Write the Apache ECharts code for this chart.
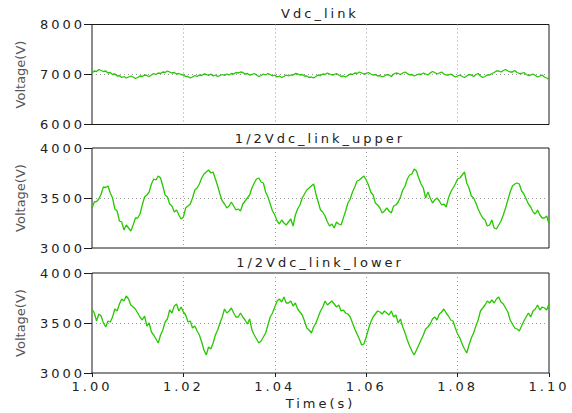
<!DOCTYPE html>
<html>
<head>
<meta charset="utf-8">
<script src="https://cdn.jsdelivr.net/npm/echarts@6/dist/echarts.min.js"></script>
<style>
  html, body { margin: 0; padding: 0; background: #fff; }
  #chart { width: 572px; height: 413px; }
  #chart text { letter-spacing: 3px; }
  #chart text[style*="Verdana"], #chart text[font-family*="Verdana"] { letter-spacing: 0; }
</style>
</head>
<body>
<div id="chart"></div>
<script>
// ---- data (sampled every 0.5 ms from t = 1.000 s to 1.100 s) ----
const T_START = 1.0;
const T_STEP = 0.0005;
const titles = ['Vdc_link', '1/2Vdc_link_upper', '1/2Vdc_link_lower'];
const yMins = [6000, 3000, 3000];
const yMaxs = [8000, 4000, 4000];
const yIntervals = [1000, 500, 500];

const vdcLink = [
7030,7070,7060,7100,7080,7060,7070,7030,7040,7000,
7010,6970,6980,6940,6960,6930,6950,6970,6950,6920,
6940,6970,6960,6990,6980,6960,6990,7020,7000,7030,
7020,7050,7040,7070,7050,7030,7040,7010,7020,7000,
6990,6960,6960,6930,6950,6980,6960,6990,6980,7010,
7000,6980,7010,6970,6990,6960,6980,7000,6980,7010,
6990,7020,7010,7040,7030,7050,7040,7010,7020,6990,
7000,7020,6990,6960,6980,7010,6990,7020,7000,6970,
6990,6950,6970,6940,6960,6990,6970,6990,6990,7020,
7010,6990,7000,6970,6970,6940,6950,6930,6960,6990,
6980,7010,7000,7030,7010,6990,7000,7020,6990,6960,
6970,6950,6980,7010,7000,7030,7020,7050,7030,7010,
7020,7040,7010,6990,7000,6970,6980,6950,6970,7000,
6990,6960,7010,7030,7020,7000,7030,7050,7020,6990,
7000,6970,6990,7010,7000,7030,7010,6990,7030,7060,
7040,7010,7030,7050,7010,6990,6990,7010,6980,6950,
6970,6990,6960,6940,6970,7000,6990,6960,7000,7020,
6970,6940,6960,6990,6990,7020,7040,7070,7070,7050,
7080,7100,7070,7050,7050,7080,7040,7020,7020,7040,
7000,6980,6990,7010,6980,6950,6970,6990,6950,6930,
6900
];

const upperHalf = [
3400,3460,3465,3490,3540,3610,3605,3620,3550,3500,
3390,3370,3270,3260,3180,3230,3200,3170,3230,3300,
3300,3340,3430,3510,3530,3560,3640,3690,3680,3720,
3700,3620,3530,3510,3440,3420,3360,3380,3330,3290,
3310,3400,3420,3440,3500,3580,3600,3640,3700,3740,
3760,3780,3750,3760,3690,3620,3540,3470,3440,3400,
3420,3460,3420,3380,3390,3370,3440,3470,3500,3530,
3600,3650,3690,3700,3660,3650,3560,3510,3440,3370,
3330,3270,3240,3280,3250,3230,3260,3290,3220,3330,
3390,3430,3500,3540,3580,3600,3620,3640,3540,3460,
3380,3360,3320,3260,3220,3240,3200,3260,3240,3230,
3300,3370,3450,3490,3560,3610,3670,3680,3700,3720,
3680,3630,3560,3530,3450,3430,3400,3350,3370,3400,
3370,3350,3420,3430,3460,3510,3580,3620,3690,3730,
3740,3790,3770,3700,3640,3600,3500,3560,3500,3450,
3480,3500,3470,3430,3440,3410,3500,3560,3600,3640,
3690,3700,3730,3760,3650,3600,3520,3500,3450,3390,
3340,3300,3280,3220,3230,3280,3200,3190,3230,3270,
3330,3400,3480,3560,3620,3640,3650,3640,3570,3540,
3490,3440,3410,3360,3340,3380,3330,3300,3300,3320,
3240
];

const lowerHalf = [
3640,3600,3520,3590,3570,3500,3460,3520,3510,3560,
3640,3620,3690,3740,3720,3770,3740,3680,3660,3640,
3600,3560,3530,3570,3470,3500,3410,3380,3340,3300,
3380,3430,3510,3540,3630,3600,3670,3690,3620,3660,
3610,3580,3510,3520,3450,3470,3420,3380,3310,3230,
3180,3260,3240,3300,3380,3430,3500,3560,3640,3600,
3620,3650,3600,3560,3560,3600,3560,3530,3490,3540,
3430,3380,3340,3300,3320,3360,3400,3480,3560,3600,
3660,3720,3740,3710,3760,3700,3700,3720,3670,3700,
3640,3610,3580,3520,3450,3430,3400,3460,3500,3560,
3620,3660,3720,3680,3700,3720,3690,3660,3680,3620,
3630,3600,3590,3560,3500,3440,3390,3340,3280,3290,
3360,3440,3510,3560,3590,3620,3610,3590,3620,3600,
3580,3620,3560,3580,3500,3540,3460,3400,3330,3270,
3220,3180,3230,3280,3330,3380,3440,3460,3490,3540,
3560,3530,3590,3610,3640,3600,3570,3530,3520,3450,
3390,3350,3290,3240,3200,3280,3350,3400,3470,3530,
3620,3650,3680,3720,3700,3730,3700,3740,3760,3710,
3690,3650,3610,3530,3490,3450,3440,3420,3470,3520,
3560,3600,3560,3620,3640,3680,3630,3660,3650,3630,
3690
];

const seriesList = [vdcLink, upperHalf, lowerHalf];

// ---- chart ----
const GREEN = '#27c800';
const FONT = 'DejaVu Sans';
const gridTops = [24.5, 148, 273];
const gridHeight = 100;
const gridLeft = 92;
const gridWidth = 457;

const toPairs = arr => arr.map((v, i) => [+(T_START + i * T_STEP).toFixed(4), v]);

const chart = echarts.init(document.getElementById('chart'), null, { renderer: 'svg' });

const grids = [], xAxes = [], yAxes = [], series = [], titleOpts = [];
const titleTops = [2, 127, 251];
for (let k = 0; k < 3; k++) {
  grids.push({
    left: gridLeft, width: gridWidth, top: gridTops[k], height: gridHeight,
    show: true, borderColor: '#1a1a1a', borderWidth: 1, backgroundColor: '#fff'
  });
  const last = k === 2;
  xAxes.push({
    type: 'value', gridIndex: k, min: 1.0, max: 1.1, interval: 0.02,
    axisLine: { show: false },
    axisTick: { show: last, inside: false, length: 4, lineStyle: { color: '#1a1a1a' } },
    axisLabel: {
      show: last, margin: 7, fontSize: 13, fontFamily: FONT, color: '#222',
      formatter: v => v.toFixed(2)
    },
    splitLine: { show: true, showMinLine: false, showMaxLine: false,
      lineStyle: { color: '#9a9a9a', type: [1, 3], width: 1 } },
    name: last ? 'Time(s)' : '',
    nameLocation: 'middle', nameGap: 24,
    nameTextStyle: { fontSize: 13, fontFamily: FONT, color: '#222' }
  });
  yAxes.push({
    type: 'value', gridIndex: k, min: yMins[k], max: yMaxs[k], interval: yIntervals[k],
    axisLine: { show: false },
    axisTick: { show: true, inside: false, length: 8, lineStyle: { color: '#1a1a1a' } },
    axisLabel: { margin: 7, fontSize: 13, fontFamily: FONT, color: '#222',
      formatter: v => String(v) },
    splitLine: { show: true, showMinLine: false, showMaxLine: false,
      lineStyle: { color: '#9a9a9a', type: [1, 3], width: 1 } },
    name: 'Voltage(V)', nameLocation: 'middle', nameGap: 65,
    nameTextStyle: { fontSize: 13, fontFamily: 'Verdana, DejaVu Sans', color: '#555' }
  });
  series.push({
    type: 'line', xAxisIndex: k, yAxisIndex: k, data: toPairs(seriesList[k]),
    showSymbol: false, symbol: 'none', animation: false,
    lineStyle: { color: GREEN, width: 1.3 }
  });
  titleOpts.push({
    text: titles[k], left: 315, top: titleTops[k], textAlign: 'center',
    textStyle: { fontSize: 13, fontWeight: 'normal', fontFamily: FONT, color: '#222' }
  });
}

chart.setOption({
  animation: false,
  backgroundColor: '#fff',
  title: titleOpts,
  grid: grids,
  xAxis: xAxes,
  yAxis: yAxes,
  series: series
});
</script>
</body>
</html>
